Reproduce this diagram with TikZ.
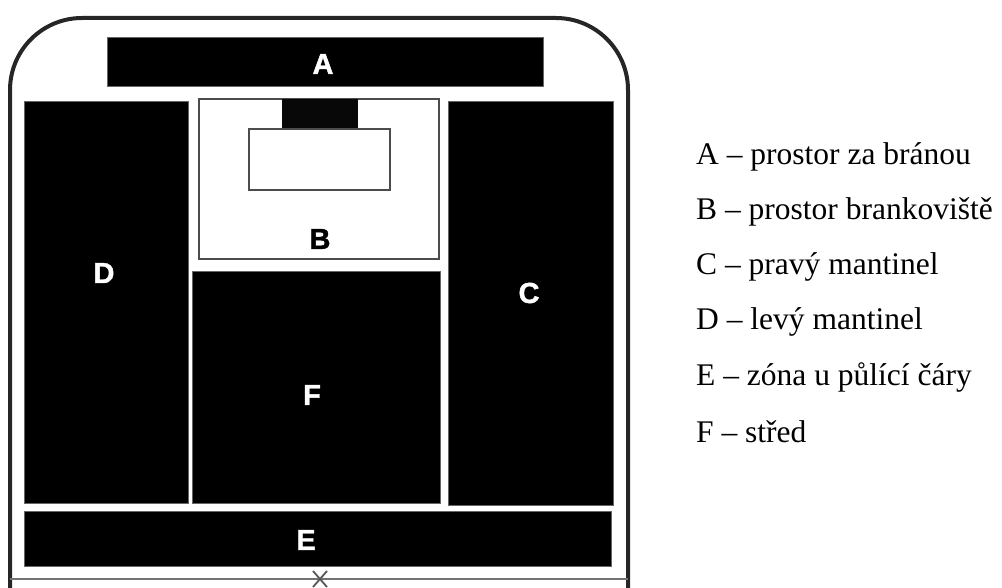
\documentclass[tikz,border=0pt]{standalone}
\usepackage{fontspec}
\setmainfont{Liberation Serif}
\newfontfamily\zonefont[BoldFeatures={FakeBold=1.5}]{Liberation Sans}
\begin{document}
\begin{tikzpicture}[x=1pt,y=-1pt,
  blk/.style={fill=black, draw=black!60, line width=0.8pt, inner sep=0, outer sep=0, anchor=north west},
  wbox/.style={fill=white, draw=black!70, line width=1.6pt, inner sep=0, outer sep=0, anchor=north west},
  lbl/.style={font=\zonefont\bfseries\fontsize{29}{29}\selectfont, text=white, inner sep=0},
  leg/.style={font=\fontsize{31.5}{31.5}\selectfont, anchor=west, inner sep=0}]
\useasboundingbox (0,0) rectangle (1002,588);
% rink outline
\draw[line width=4pt, draw=black!85, rounded corners=72pt] (10,590) -- (10,18) -- (628,18) -- (628,590);
\draw[line width=1.6pt, draw=black!55] (10,579) -- (628,579);
\draw[line width=1.8pt, draw=black!65] (313,571) -- (327,587) (313,587) -- (327,571);
% zones
\node[blk, minimum width=436, minimum height=49] (A) at (107,37) {};
\node[blk, minimum width=164, minimum height=402] (D) at (24,101) {};
\node[wbox, minimum width=240, minimum height=160] (B) at (199,99) {};
\node[blk, fill=black!97, draw=black!97, minimum width=75, minimum height=30] (goal) at (282,99) {};
\node[wbox, minimum width=141, minimum height=61] (crease) at (249,129) {};
\node[blk, minimum width=248, minimum height=232] (F) at (192,271) {};
\node[blk, minimum width=165, minimum height=404] (C) at (448,101) {};
\node[blk, minimum width=587, minimum height=55] (E) at (24,511) {};
% zone letters
\node[lbl] (lA) at (323,64) {A};
\node[lbl, text=black] (lB) at (320,239) {B};
\node[lbl] (lC) at (529,293) {C};
\node[lbl] (lD) at (104,273) {D};
\node[lbl] (lE) at (306,540) {E};
\node[lbl] (lF) at (312,395) {F};
% legend
\node[leg] (gA) at (696,157) {A – prostor za bránou};
\node[leg] (gB) at (696,212) {B – prostor brankoviště};
\node[leg] (gC) at (696,267) {C – pravý mantinel};
\node[leg] (gD) at (696,322) {D – levý mantinel};
\node[leg] (gE) at (696,377) {E – zóna u půlící čáry};
\node[leg] (gF) at (696,432) {F – střed};
\end{tikzpicture}
\end{document}
